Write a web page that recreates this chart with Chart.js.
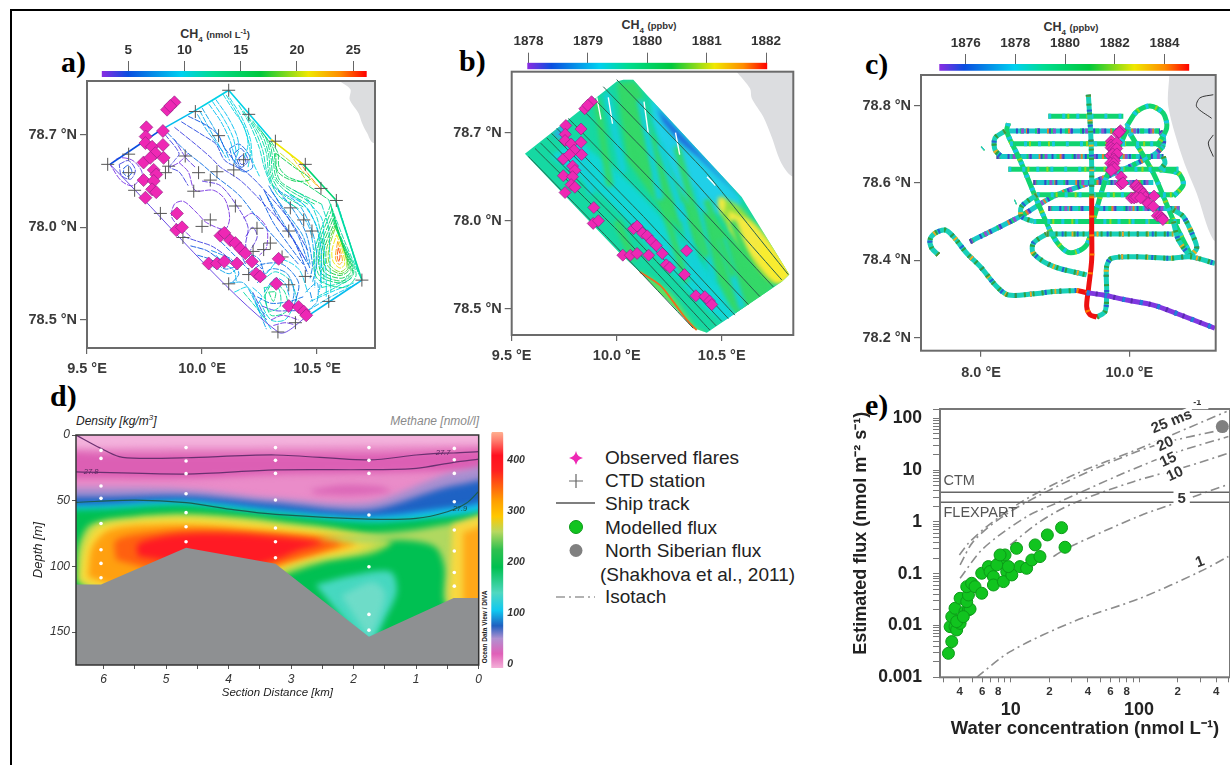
<!doctype html>
<html><head><meta charset="utf-8">
<script src="https://cdn.jsdelivr.net/npm/chart.js@4"></script>
<style>
html,body{margin:0;background:#fff;width:1230px;height:765px;overflow:hidden;font-family:"Liberation Sans",Arial,sans-serif}
body{filter:blur(.4px)}
canvas{position:absolute}
.t{position:absolute;white-space:nowrap;color:#222;line-height:1}
.pl{font:bold 30px "Liberation Serif",serif;color:#000}
.cb{font-size:12.5px;font-weight:bold;color:#333;transform:translateX(-50%)}
.cb small{font-size:9.5px}
.cb sub{font-size:8px;line-height:0}.cb sup{font-size:7px;line-height:0}
.lg{font-size:19px}
#bt,#bl{position:absolute;background:#000}
</style></head><body>
<div id="bt" style="left:9.5px;top:8.5px;width:1221px;height:2.5px"></div>
<div id="bl" style="left:9.5px;top:8.5px;width:2.5px;height:757px"></div>
<div class="t pl" style="left:61px;top:45px">a)</div>
<div class="t pl" style="left:459px;top:44px">b)</div>
<div class="t pl" style="left:865px;top:47px">c)</div>
<div class="t pl" style="left:50px;top:379px">d)</div>
<div class="t pl" style="left:865px;top:388px">e)</div>
<div class="t cb" style="left:215px;top:28px">CH<sub>4</sub> <small>(nmol L<sup>-1</sup>)</small></div>
<div class="t cb" style="left:649px;top:19px">CH<sub>4</sub> <small>(ppbv)</small></div>
<div class="t cb" style="left:1071px;top:21px">CH<sub>4</sub> <small>(ppbv)</small></div>
<div class="t" style="left:76px;top:414px;font:italic 12px 'Liberation Sans';color:#222">Density [kg/m<sup style="font-size:8px;line-height:0">3</sup>]</div>
<div class="t" style="left:378px;top:414px;width:101px;text-align:right;font:italic 12px 'Liberation Sans';color:#8a8a8a">Methane [nmol/l]</div>
<div class="t" style="left:484px;top:627px;font:bold 6.5px 'Liberation Sans';transform:translate(-50%,-50%) rotate(-90deg)">Ocean Data View / DIVA</div>
<svg style="position:absolute;left:540px;top:440px" width="70" height="170">
<path transform="translate(36,18)" d="M0,-7 Q1.2,-1.2 7,0 Q1.2,1.2 0,7 Q-1.2,1.2 -7,0 Q-1.2,-1.2 0,-7Z" fill="#ee28b4"/>
<path d="M29,41H43M36,34V48" stroke="#666" stroke-width="1.2"/>
<path d="M16,63H55" stroke="#555" stroke-width="1.5"/>
<circle cx="36" cy="87" r="6.5" fill="#11c41f" stroke="#0c9a18"/>
<circle cx="36" cy="110.500" r="6.500" fill="#808080"/>
<path d="M16,157H55" stroke="#999" stroke-width="1.3" stroke-dasharray="9 4 2 4"/>
</svg>
<div class="t lg" style="left:605px;top:448px">Observed flares</div>
<div class="t lg" style="left:605px;top:471px">CTD station</div>
<div class="t lg" style="left:605px;top:494px">Ship track</div>
<div class="t lg" style="left:605px;top:518px">Modelled flux</div>
<div class="t lg" style="left:605px;top:541px">North Siberian flux</div>
<div class="t lg" style="left:600px;top:565px">(Shakhova et al., 2011)</div>
<div class="t lg" style="left:605px;top:587px">Isotach</div>
<script>
// ---------- shared data ----------
const flares=[9.88,78.735,9.848,78.727,9.862,78.731,9.758,78.708,9.755,78.698,9.83,78.704,9.754,78.691,9.783,78.687,9.797,78.68,9.83,78.689,9.746,78.67,9.775,78.675,9.833,78.675,9.79,78.662,9.801,78.657,9.746,78.651,9.79,78.65,9.783,78.641,9.801,78.638,9.754,78.632,9.891,78.615,9.888,78.597,9.913,78.6,10.08,78.591,10.097,78.594,10.123,78.586,10.145,78.583,10.167,78.577,10.188,78.572,10.217,78.563,10.236,78.55,10.253,78.547,10.029,78.561,10.065,78.561,10.097,78.563,10.152,78.561,10.333,78.566,10.323,78.539,10.377,78.515,10.42,78.514,10.442,78.509,10.453,78.505];
// ---------- panel a ----------
const ctd=[9.59,78.668,9.681,78.659,9.707,78.64,9.681,78.679,9.971,78.725,10.116,78.748,10.203,78.722,10.072,78.699,10.319,78.693,10.449,78.668,10.517,78.642,10.584,78.629,9.927,78.677,9.855,78.666,9.841,78.659,9.985,78.659,10.065,78.66,10.138,78.662,10.181,78.673,10.036,78.651,9.964,78.639,10.145,78.623,10.384,78.621,10.442,78.608,10.478,78.596,10.377,78.596,10.239,78.599,10.297,78.583,10.036,78.608,10.0,78.601,9.917,78.589,9.819,78.615,10.268,78.576,10.222,78.574,10.116,78.539,10.203,78.549,10.377,78.538,10.449,78.547,10.695,78.543,10.551,78.52,10.406,78.497,10.33,78.487,10.348,78.568];
const landA=[10.598,78.758,10.645,78.749,10.642,78.738,10.681,78.723,10.695,78.713,10.717,78.702,10.746,78.691,11,78.691,11,78.8,10.598,78.8];
const contourValues=[5,9,10,10,21,14,12,9,3.5,3,4,5,6,4,4.5,5,8,8,9,9,10,10,11,12,13,14,15,16,20,22,24,5,6,7,8,9,10,11,13,15,17,19,21,23,25,14,16,18,12,3,3,3.5,3,3.5,4,5,6,8,5,6,6,5,4.5,6,7,8,14,12,3,3.2,4,6,9,4.5,8,7,4,3.5,11,10,8.5,7.5,6.5,5.5,8.5,9.5,10.5,11.5,12.5,13.5,7,9,6,5,8,10,12,9.5,11,13,10.5,10,11,12,9,12,11];
const contourLines=[
[9.6,78.668,9.82,78.705],[9.82,78.705,9.97,78.726],[9.97,78.726,10.116,78.748],[10.116,78.748,10.3,78.695],[10.3,78.695,10.44,78.668],[10.44,78.668,10.58,78.63],[10.58,78.63,10.695,78.543],[10.695,78.543,10.464,78.505],[10.464,78.505,10.33,78.487,9.6,78.668],
[9.6,78.668,9.64,78.675,9.7,78.672,9.74,78.658,9.7,78.645,9.65,78.65,9.6,78.668],
[9.64,78.668,9.68,78.672,9.71,78.662,9.69,78.652,9.65,78.656,9.64,78.668],
[9.66,78.664,9.68,78.667,9.695,78.66,9.68,78.655,9.66,78.658,9.66,78.664],
[9.85,78.702,9.93,78.682,10.0,78.668,10.06,78.655,10.16,78.635,10.24,78.61,10.33,78.585,10.42,78.56],
[9.88,78.708,9.97,78.69,10.04,78.675,10.08,78.665,10.17,78.65,10.27,78.625,10.36,78.6,10.45,78.565],
[9.91,78.714,10.0,78.7,10.06,78.69,10.1,78.672,10.19,78.66,10.29,78.635,10.39,78.605,10.46,78.575],
[9.94,78.72,10.02,78.71,10.07,78.7,10.1,78.685,10.18,78.66],
[9.98,78.722,10.02,78.705,10.05,78.695,10.09,78.682],
[10.0,78.729,10.05,78.708,10.09,78.69,10.12,78.672],
[10.03,78.733,10.08,78.715,10.12,78.695,10.14,78.678],
[10.06,78.738,10.11,78.72,10.15,78.7,10.16,78.685,10.14,78.67],
[10.09,78.744,10.14,78.725,10.18,78.71,10.2,78.69,10.18,78.672],
[10.12,78.74,10.17,78.72,10.21,78.695,10.22,78.672,10.25,78.655],
[10.16,78.732,10.21,78.71,10.25,78.685,10.27,78.665,10.3,78.645],
[10.2,78.72,10.25,78.7,10.28,78.68,10.29,78.66,10.33,78.635,10.42,78.62],
[10.24,78.71,10.28,78.695,10.3,78.675,10.31,78.655,10.36,78.64,10.46,78.625],
[10.27,78.7,10.31,78.685,10.32,78.665,10.34,78.65,10.4,78.64,10.52,78.625],
[10.3,78.693,10.33,78.68,10.335,78.665,10.37,78.655,10.44,78.648,10.55,78.63],
[10.32,78.68,10.4,78.665,10.47,78.652,10.4,78.65,10.33,78.66,10.32,78.68],
[10.34,78.68,10.41,78.665,10.47,78.645],
[10.38,78.68,10.44,78.66,10.5,78.645],
[10.42,78.672,10.46,78.658,10.52,78.64],
[10.27,78.64,10.33,78.61,10.4,78.585,10.46,78.55],
[10.29,78.645,10.35,78.62,10.42,78.59,10.47,78.555],
[10.31,78.645,10.38,78.625,10.45,78.595,10.48,78.56,10.47,78.545],
[10.33,78.64,10.42,78.625,10.48,78.595,10.5,78.565,10.48,78.54],
[10.38,78.635,10.46,78.62,10.51,78.59,10.52,78.56,10.51,78.53],
[10.45,78.63,10.52,78.61,10.53,78.585,10.54,78.545,10.54,78.525],
[10.52,78.625,10.55,78.6,10.555,78.57,10.56,78.53],
[10.56,78.625,10.58,78.6,10.67,78.55,10.62,78.535,10.5,78.545,10.49,78.575,10.56,78.625],
[10.57,78.615,10.6,78.59,10.655,78.552,10.61,78.542,10.52,78.55,10.51,78.575,10.57,78.615],
[10.575,78.605,10.605,78.585,10.64,78.555,10.6,78.548,10.54,78.555,10.53,78.575,10.575,78.605],
[10.58,78.6,10.61,78.58,10.63,78.558,10.6,78.552,10.555,78.56,10.55,78.575,10.58,78.6],
[10.585,78.592,10.61,78.575,10.62,78.56,10.6,78.556,10.57,78.563,10.565,78.575,10.585,78.592],
[10.59,78.585,10.605,78.572,10.61,78.563,10.595,78.56,10.58,78.567,10.59,78.585],
[10.592,78.578,10.6,78.57,10.595,78.563,10.588,78.568,10.592,78.578],
[10.565,78.62,10.595,78.595,10.66,78.552,10.615,78.54,10.51,78.548,10.5,78.575,10.565,78.62],
[10.572,78.61,10.602,78.588,10.648,78.553,10.605,78.545,10.53,78.552,10.52,78.575,10.572,78.61],
[10.578,78.602,10.608,78.582,10.635,78.556,10.6,78.55,10.548,78.558,10.54,78.575,10.578,78.602],
[10.55,78.63,10.62,78.585,10.685,78.548],
[9.9,78.67,9.94,78.66,9.97,78.64,10.05,78.64,10.1,78.63,10.12,78.61,10.1,78.598,10.02,78.605,9.98,78.615,9.92,78.628,9.88,78.625,9.87,78.61,9.95,78.59],
[9.94,78.68,9.9,78.67,9.86,78.665],
[10.0,78.65,10.08,78.645,10.16,78.62,10.2,78.6,10.19,78.58,10.22,78.56],
[10.18,78.61,10.22,78.615,10.28,78.6,10.28,78.578,10.25,78.57],
[10.19,78.59,10.22,78.6,10.24,78.59,10.21,78.575],
[9.92,78.59,9.98,78.585,10.04,78.58,10.1,78.57,10.14,78.56],
[9.95,78.58,10.02,78.575,10.08,78.565,10.14,78.56],
[9.98,78.57,10.04,78.565,10.1,78.555,10.15,78.558],
[10.02,78.56,10.07,78.555,10.12,78.55,10.17,78.56],
[10.1,78.6,10.14,78.585,10.17,78.57,10.19,78.56],
[10.06,78.59,10.12,78.575,10.16,78.565,10.2,78.555],
[10.12,78.685,10.16,78.69,10.2,78.68,10.22,78.665,10.18,78.66,10.14,78.67,10.12,78.685],
[10.14,78.68,10.17,78.685,10.2,78.672,10.17,78.665,10.14,78.68],
[10.16,78.675,10.18,78.678,10.19,78.67,10.17,78.668,10.16,78.675],
[10.2,78.55,10.26,78.56,10.35,78.56,10.42,78.54,10.4,78.515],
[10.24,78.54,10.3,78.555,10.37,78.55,10.4,78.53,10.38,78.51],
[10.27,78.53,10.32,78.545,10.36,78.54,10.38,78.525],
[10.29,78.53,10.32,78.53,10.31,78.52,10.29,78.53],
[10.27,78.535,10.33,78.535,10.34,78.515,10.29,78.51,10.27,78.535],
[10.3,78.5,10.35,78.505,10.42,78.5],
[10.31,78.494,10.36,78.497,10.4,78.495],
[10.26,78.515,10.32,78.51,10.38,78.51,10.44,78.51],
[10.24,78.525,10.3,78.518,10.38,78.52,10.44,78.525],
[10.22,78.535,10.26,78.525,10.24,78.515,10.28,78.505],
[10.22,78.53,10.28,78.5],
[10.45,78.53,10.5,78.54,10.5,78.52,10.46,78.51],
[10.47,78.53,10.48,78.52],
[9.84,78.7,9.9,78.68,9.88,78.672,9.86,78.665,9.9,78.66,9.94,78.645],
[9.88,78.695,9.93,78.675,9.97,78.665],
[10.4,78.64,10.46,78.63,10.5,78.61,10.525,78.58,10.53,78.54],
[10.36,78.64,10.44,78.625,10.5,78.6,10.51,78.57,10.52,78.535],
[10.35,78.632,10.42,78.618,10.47,78.597,10.49,78.56,10.49,78.535],
[10.3,78.64,10.37,78.615,10.44,78.59,10.47,78.56],
[10.28,78.635,10.34,78.61,10.41,78.582,10.46,78.56],
[10.25,78.635,10.31,78.605,10.38,78.58,10.44,78.56],
[9.99,78.726,10.035,78.705,10.07,78.69,10.105,78.675],
[10.045,78.736,10.095,78.717,10.135,78.697,10.15,78.68],
[10.105,78.743,10.155,78.722,10.195,78.7,10.21,78.68,10.2,78.665],
[10.18,78.726,10.23,78.705,10.265,78.682,10.28,78.662,10.315,78.64],
[10.22,78.715,10.265,78.698,10.29,78.678,10.3,78.657,10.345,78.637,10.44,78.622],
[10.255,78.705,10.295,78.69,10.31,78.67,10.325,78.652,10.38,78.64,10.49,78.625],
[10.04,78.575,10.09,78.57,10.13,78.565,10.16,78.55,10.13,78.54],
[10.06,78.57,10.1,78.56,10.14,78.553,10.15,78.54],
[10.18,78.57,10.22,78.57,10.25,78.565,10.27,78.55],
[10.2,78.565,10.24,78.56,10.26,78.555],
[10.12,78.54,10.18,78.54,10.22,78.525,10.28,78.49],
[10.14,78.53,10.2,78.535,10.25,78.51,10.3,78.49],
[10.18,78.53,10.23,78.515,10.28,78.5],
[10.28,78.55,10.34,78.565,10.42,78.555,10.46,78.53],
[10.26,78.542,10.32,78.552,10.39,78.54,10.42,78.51],
[10.27,78.525,10.31,78.54,10.36,78.53,10.37,78.51,10.3,78.505,10.27,78.525],
[10.25,78.52,10.3,78.5,10.36,78.5,10.4,78.515],
[10.47,78.52,10.56,78.53,10.66,78.54],
[10.5,78.525,10.58,78.535,10.65,78.545],
[10.52,78.535,10.6,78.54,10.64,78.548],
[10.46,78.51,10.56,78.525,10.68,78.54],
[10.6,78.615,10.66,78.57,10.69,78.545],
[10.59,78.625,10.64,78.585,10.68,78.55]];
const cbATicks=[5,10,15,20,25];
// ---------- panel b ----------
const swath=[9.563,78.676,10.0,78.758,10.032,78.76,10.079,78.76,10.143,78.743,10.595,78.627,10.822,78.539,10.786,78.531,10.429,78.473,10.373,78.478,10.111,78.542,10.016,78.563];
const landB=[10.571,78.769,10.635,78.75,10.643,78.739,10.698,78.718,10.738,78.695,10.785,78.665,10.841,78.65,11,78.65,11,78.8,10.571,78.8];
const bandColors=['#16d8a2','#12d6d6','#34d868','#20d0e8','#1f68dc','#28b0e0','#90e040','#f5ea40','#f8ec30','#f5ea40','#60e060'];
const bandShapes=[
[9,78.4,11,78.4,11,78.9,9,78.9],
[9.683,78.673,9.952,78.624,10.206,78.556,10.492,78.488,10.587,78.495,10.333,78.571,10.048,78.646,9.809,78.692],
[10.0,78.756,10.095,78.756,10.174,78.699,10.333,78.639,10.524,78.586,10.746,78.529,10.587,78.491,10.428,78.556,10.206,78.616,10.048,78.669],
[10.159,78.741,10.587,78.627,10.555,78.608,10.365,78.616,10.238,78.669,10.174,78.711],
[10.19,78.728,10.587,78.627,10.5,78.647,10.39,78.672,10.3,78.69,10.22,78.712],
[9.698,78.699,9.746,78.709,9.762,78.699,9.714,78.692],
[10.492,78.627,10.587,78.616,10.825,78.54,10.746,78.529,10.587,78.571,10.492,78.608],
[10.53,78.612,10.66,78.595,10.825,78.54,10.76,78.53,10.64,78.56,10.54,78.59],
[10.68,78.58,10.82,78.54,10.76,78.532,10.68,78.555],
[10.484,78.627,10.516,78.624,10.508,78.608,10.484,78.616],
[10.111,78.543,10.254,78.518,10.381,78.478,10.429,78.473,10.333,78.472,10.095,78.537]];
const streakColors=['#34d868','#34d868','#34d868','#34d868','#14d0d8','#14d0d8','#14d0d8','#14d0d8','#34d868','#34d868','#34d868','#14d0d8','#14d0d8','#14d0d8'];
const streaks=[[9.905,78.737,9.968,78.639],[10.048,78.748,10.143,78.65],[10.286,78.684,10.428,78.559],[10.428,78.624,10.555,78.537],[9.952,78.745,10.032,78.654],[10.111,78.737,10.206,78.624],[10.365,78.639,10.46,78.533],[10.206,78.688,10.317,78.601],[10.0,78.6,10.08,78.555],[10.22,78.62,10.33,78.53],[10.55,78.6,10.68,78.52],[10.3,78.62,10.42,78.51],[10.5,78.58,10.6,78.5],[9.82,78.69,9.88,78.63]];
const whiteGaps=[[9.905,78.74,9.925,78.715],[9.96,78.74,9.98,78.71],[10.13,78.735,10.15,78.7],[10.28,78.7,10.3,78.675],[10.43,78.65,10.47,78.64],[9.93,78.75,9.99,78.76]];
const orangeEdge=[10.111,78.542,10.206,78.527,10.27,78.508,10.333,78.488,10.381,78.476];
const shipLines=[
[9.579,78.673,9.952,78.582,10.365,78.478],[9.611,78.682,10.016,78.586,10.444,78.476],[9.638,78.688,10.048,78.59,10.473,78.481],[9.667,78.694,10.079,78.593,10.5,78.486],[9.69,78.699,10.103,78.599,10.532,78.489],[9.714,78.705,10.127,78.605,10.563,78.493],[9.77,78.716,10.19,78.614,10.627,78.505],[9.825,78.729,10.254,78.624,10.682,78.514],[9.881,78.741,10.301,78.639,10.746,78.525],[9.936,78.752,10.365,78.646,10.786,78.533],[10.0,78.76,10.428,78.654,10.817,78.539]];
const cbBTicks=[1878,1879,1880,1881,1882];
// ---------- panel c ----------
const landC=[10.539,78.879,10.526,78.797,10.728,78.659,10.908,78.573,11.133,78.453,11.3,78.453,11.3,78.9,10.539,78.9];
const inlets=[[11.133,78.828,10.953,78.82,10.908,78.797,11.11,78.767],[11.133,78.724,11.065,78.703,11.133,78.668]];
const tracksBlue=[[8.324,78.734,10.413,78.734],[8.211,78.668,10.458,78.668],[8.706,78.601,10.324,78.601],[8.908,78.534,10.683,78.534],[7.852,78.448,8.526,78.513,8.975,78.565,9.694,78.616,10.324,78.672,10.458,78.694],[10.413,78.734,10.46,78.717,10.45,78.695,10.391,78.701]];
const tracksGreen=[[8.908,78.772,9.919,78.772],[8.391,78.701,10.391,78.701],[8.369,78.635,10.661,78.635],[8.751,78.569,10.593,78.569],[8.706,78.5,10.683,78.5],[8.369,78.754,8.346,78.733,8.526,78.659,8.751,78.556,8.975,78.461,9.155,78.422,9.29,78.422,9.425,78.44,9.492,78.478],[9.964,78.746,10.099,78.784,10.279,78.799,10.458,78.78,10.503,78.741,10.369,78.694],[9.987,78.746,9.694,78.616,9.515,78.504],[10.009,78.728,10.324,78.625,10.593,78.504,10.84,78.409],[10.413,78.634,10.661,78.625,10.728,78.595,10.593,78.565],[8.018,78.688,8.03,78.69],[8.458,78.55,8.47,78.551]];
const tracksMix=[[7.425,78.414,7.335,78.431,7.312,78.453,7.38,78.47,7.515,78.478,7.627,78.461,7.807,78.418,7.987,78.384,8.211,78.332,8.369,78.31,8.706,78.313,8.975,78.319,9.29,78.322],[9.56,78.253,9.672,78.267,9.694,78.315,9.694,78.384,9.762,78.405,10.099,78.409,10.548,78.405,10.818,78.409,11.155,78.392],[8.885,78.468,10.593,78.468],[8.324,78.734,8.189,78.716,8.189,78.685,8.279,78.668],[8.751,78.569,8.548,78.539,8.548,78.513,8.706,78.5],[8.885,78.468,8.706,78.444,8.706,78.418,8.975,78.384,9.425,78.362],[10.593,78.53,10.728,78.513,10.863,78.461,10.908,78.431,10.818,78.409],[10.593,78.5,10.661,78.453,10.818,78.409],[9.447,78.828,9.479,78.728,9.492,78.642,9.492,78.565],[10.458,78.668,10.481,78.651,10.413,78.634]];
const tracksRed=[[9.492,78.565,9.492,78.487,9.492,78.401,9.447,78.323,9.425,78.28,9.47,78.259,9.56,78.253],[9.29,78.322,9.425,78.316]];
const tracksPurple=[[9.425,78.316,9.649,78.31,9.964,78.297,10.324,78.284,10.683,78.259,11.155,78.224]];
const cbCTicks=[1876,1878,1880,1882,1884];
// ---------- panel d ----------
const dX=[0,1,2,3,4,5,6,0.5,1.5,2.5,3.5,4.5,5.5];
const dY=[0,50,100,150];
const dTick=[0,100,200,300,400];
const seabed=[8,113.7,6.04,113.7,4.68,85.8,3.25,98,1.755,153.5,0.4,124,-2,124,-2,200,8,200];
const dColors=['#ea8cc9','#f3b2dc','#dc5fb4','#dc68b8','#a78fd0','#1e62c4','#14c8f0','#00c052','#b8dc50','#f8dc3c','#ffa010','#ff6010','#ff1a24','#b0d860','#f8d840','#ffa818','#46d8c0','#6edcc8'];
const dShapes=[
[-2,-10,8,-10,8,200,-2,200],
[-2,-10,8,-10,8,7,4.7,9,1.75,8,-2,6],
[8,8,6.05,14,4.7,14,3.25,14,1.75,14,0.35,12,-2,8,-2,24,0.35,27,1.75,29,3.25,30,4.7,33,6.05,33,8,33],
[2.7,42,2.2,38,1.6,39,1.4,43,2.0,46,2.6,45],
[8,41,6.05,40,4.7,41,3.25,48,1.75,51,0.35,28,-2,18,-2,200,8,200],
[8,47,6.05,47,4.7,46,3.25,52,1.75,57,0.35,38,-2,28,-2,200,8,200],
[8,54,6.05,53,4.7,50,3.25,57,1.75,62,0.35,55,-2,42,-2,200,8,200],
[8,58,6.05,56,4.7,53,3.25,60,1.75,66,0.35,61,-2,50,-2,200,8,200],
[6.42,112,6.4,85,6.2,68,5.5,62,4.7,60,3.7,63,3,67,2.3,71,1.4,81,1.7,90,2.5,97,3.3,110,4,125,6,125],
[6.38,110,6.3,85,6.1,70,5.5,65,4.7,63,3.7,66,3,70,2.3,74,1.65,81,1.95,88,2.7,95,3.3,105,4,120,6,120],
[6.25,108,6.18,85,5.9,72,5,68,4.2,69,3.2,73,2.4,77,1.95,81,2.15,86,2.8,93,3.2,100,4,115,5.8,115],
[5.8,95,5.8,80,5,73,4.3,72,3.4,75,2.7,78,2.2,82,2.6,90,3.2,98,4,110,5,105],
[5.45,92,5.45,83,5,77,4.4,75,3.6,76,2.9,79,2.5,82,2.9,88,3.2,94,4,104,4.7,98],
[2.6,78,1.7,75,1,72,0.5,68,-0.5,62,-0.5,130,0.5,130,0.55,100,0.7,85,1.2,80,1.8,83],
[0.42,68,-0.5,60,-0.5,130,0.42,130,0.45,100],
[0.25,74,-0.5,66,-0.5,130,0.25,130],
[2.61,114,2.05,107,1.41,104,1.31,119,1.52,142,1.75,165],
[2.2,122,1.7,112,1.5,120,1.6,140,1.75,155]];
const density277=[6.44,0,6.05,10,5.75,16.5,5.4,17.8,4.68,17.3,3.25,15.2,1.755,19,1.0,15.2,0.67,14,0.4,13.7,0,12.7];
const density278=[6.44,28,4.68,29.7,3.25,26.6,1.755,26.4,1.0,25.4,0.4,20.8,0,18.3];
const density279=[6.44,51.3,5.5,49.5,4.68,51.5,3.9,57,3.25,60.4,1.755,64,1.0,63.5,0.5,58.4,0.2,52,0,43];
const samples=[6.04,11.7,6.04,17.8,6.04,38.8,6.04,48.2,6.04,67.3,6.04,87.3,6.04,97.7,6.04,108.6,4.68,9.6,4.68,19.8,4.68,29.4,4.68,44.7,4.68,59.1,4.68,69.8,4.68,81.2,3.25,9.6,3.25,19.3,3.25,29.2,3.25,49.5,3.25,70.8,3.25,81.2,3.25,93.4,1.755,9.6,1.755,19.3,1.755,29.2,1.755,60.9,1.755,100.3,1.755,136.5,1.755,148.5,0.39,10.2,0.39,18.8,0.39,29.2,0.39,50.8,0.39,72.3,0.39,88.3,0.39,104.6,0.39,115];
// ---------- panel e ----------
const modelledFlux=[3.27,.0029,3.47,.00489,3.37,.0095,3.68,.0095,3.79,.0082,4.03,.011,3.47,.0148,3.68,.0215,4.03,.0335,4.4,.0185,4.68,.02,4.82,.0208,4.54,.0289,4.68,.0388,4.54,.0562,4.96,.0653,5.27,.0562,5.94,.0419,5.94,.102,6.7,.137,6.9,.11,7.33,.0877,7.33,.0605,8.26,.171,9.03,.23,9.31,.11,8.77,.0703,10.2,.0946,11.1,.309,11.8,.137,13.3,.127,14.6,.184,15.5,.359,16.9,.214,19.3,.56,24.9,.774,26.5,.324,7.78,.148,9.59,.137,3.79,.0119,4.27,.0148,8.26,.23];
const siberianFlux=[446,69];
const isotach1=[5.43,.001,9.9,.00313,30.8,.0119,102,.0335,299,.11,497,.214];
const isotach5=[21.5,.214,27.3,.309,102,1.32,208,2.46,497,5.32];
const isotach10=[9.9,.359,16.9,1.01,30.8,2.29,90.4,5.98,235,11.7,497,21.1];
const isotach15=[4.03,.0815,6.12,.309,13.3,1.26,24.2,2.46,75.5,8.67,185,21.1,497,44.3];
const isotach20=[4.03,.148,5.1,.416,8.26,1.17,16.9,3.31,49.7,11.7,137,30.5,497,64];
const isotach25=[3.98,.23,4.68,.386,6.5,.81,12.2,2.46,30.8,8.05,102,26.4,482,135];
const ctmFlux=3.73, flexpartFlux=2.39;
const xTicksE=[3,4,5,6,7,8,9,10,20,30,40,50,60,70,80,90,100,200,300,400,500];
const xLabelsE=[4,6,8,20,40,60,80,200,400];
const xMajorE=[10,100];
const yTicksE=[.001,.002,.003,.004,.005,.006,.007,.008,.009,.01,.02,.03,.04,.05,.06,.07,.08,.09,.1,.2,.3,.4,.5,.6,.7,.8,.9,1,2,3,4,5,6,7,8,9,10,20,30,40,50,60,70,80,90,100,150];
const yMajorE=[.001,.01,.1,1,10,100];
// ---------- helpers ----------
const P=f=>{const o=[];for(let i=0;i<f.length;i+=2)o.push({x:f[i],y:f[i+1]});return o};
const FF='"Liberation Sans"';
const rampStops=[[0,'#8a2be2'],[.1,'#0a4ee0'],[.3,'#00d0f0'],[.42,'#00dc90'],[.6,'#00c83c'],[.78,'#f0e800'],[.9,'#ff8c00'],[1,'#ff0000']];
const hex=c=>[1,3,5].map(i=>parseInt(c.substr(i,2),16));
function rampColor(t){t=Math.max(0,Math.min(1,t));for(let i=1;i<rampStops.length;i++){if(t<=rampStops[i][0]){const a=rampStops[i-1],b=rampStops[i],u=(t-a[0])/(b[0]-a[0]),A=hex(a[1]),B=hex(b[1]);return `rgb(${A.map((v,k)=>Math.round(v+(B[k]-v)*u)).join(',')})`}}return '#f00'}
const frame=(col,w)=>({id:'frame',afterDraw(c){const a=c.chartArea,x=c.ctx;x.save();x.strokeStyle=col;x.lineWidth=w;x.strokeRect(a.left,a.top,a.width,a.height);x.restore()}});
const soft=(blur,K,clipPts)=>({id:'soft',
 beforeDatasetsDraw(c){const x=c.ctx;x.save();if(clipPts){x.beginPath();clipPts.forEach((p,i)=>{const X=c.scales.x.getPixelForValue(p.x),Y=c.scales.y.getPixelForValue(p.y);i?x.lineTo(X,Y):x.moveTo(X,Y)});x.closePath();x.clip()}x.filter=`blur(${blur}px)`},
 afterDatasetDraw(c,a){if(a.index===K)c.ctx.restore()}});
const annot=items=>({id:'annot',afterDraw(c){const x=c.ctx;items.forEach(it=>{const X=c.scales.x.getPixelForValue(it.x),Y=c.scales.y.getPixelForValue(it.y);x.save();x.translate(X,Y);x.rotate((it.rot||0)*Math.PI/180);x.font=it.font;x.textAlign=it.align||'center';x.textBaseline='middle';if(it.bg){const w=x.measureText(it.t).width+(it.pad||4);x.fillStyle=it.bg;x.fillRect(-w/2,-(it.h||16)/2,w,it.h||16)}x.fillStyle=it.color||'#333';x.fillText(it.t,0,0);x.restore()})}});
function mk(cv,plot,type,data,scales,opts){
 const el=document.createElement('canvas');el.style.left=cv[0]+'px';el.style.top=cv[1]+'px';el.width=cv[2]-cv[0];el.height=cv[3]-cv[1];el.style.width=el.width+'px';el.style.height=el.height+'px';document.body.appendChild(el);
 const sides={left:plot[0]-cv[0],top:plot[1]-cv[1],right:cv[2]-plot[2],bottom:cv[3]-plot[3]};
 const pad={left:sides.left,top:sides.top,right:sides.right,bottom:sides.bottom};
 Object.values(scales).forEach(s=>{if(s.display===false||!s.position)return;pad[s.position]=0;
  const given=s.boxSize!=null?s.boxSize:sides[s.position];const horiz=s.position==='top'||s.position==='bottom';
  s.afterFit=a=>{if(horiz)a.height=given;else a.width=given;a.paddingLeft=a.paddingRight=a.paddingTop=a.paddingBottom=0};
  if(s.tickValues){const tv=s.tickValues;s.afterBuildTicks=a=>{a.ticks=tv.map(v=>({value:v}))}}
 });
 return new Chart(el,{type,data,plugins:opts.plugins||[],options:Object.assign({responsive:false,animation:false,events:[],devicePixelRatio:1,layout:{padding:pad},scales,plugins:{legend:{display:false},tooltip:{enabled:false}}},opts.options||{})});
}
const area=(data,color,label)=>({label,type:'scatter',data:P(data),showLine:true,fill:'shape',backgroundColor:color,borderWidth:0,pointRadius:0,tension:.3});
const polyline=(data,color,w,label,extra)=>Object.assign({label,type:'scatter',data:P(data),showLine:true,fill:false,borderColor:color,borderWidth:w,pointRadius:0,tension:.3},extra||{});
const flareSet=r=>({label:'Observed flares',data:P(flares),pointStyle:'rectRot',radius:r,backgroundColor:'#ee28b4',borderColor:'#8a2080',borderWidth:.6});
const lonAxis=(min,max,vals,pad)=>({type:'linear',position:'bottom',min,max,tickValues:vals,border:{display:false},grid:{drawOnChartArea:false,tickLength:6,color:'#666',lineWidth:1.2},ticks:{autoSkip:false,maxRotation:0,padding:pad,color:'#3a3a3a',font:{family:FF,size:14.5,weight:'bold'},callback:v=>v.toFixed(1)+' °E'}});
const latAxis=(min,max,vals,labels)=>({type:'linear',position:'left',min,max,tickValues:vals,border:{display:false},grid:{drawOnChartArea:false,tickLength:7,color:'#666',lineWidth:1.2},ticks:{autoSkip:false,padding:3,color:'#3a3a3a',font:{family:FF,size:14.5,weight:'bold'},callback:v=>labels[vals.indexOf(v)]}});
function colorbar(cv,plot,min,max,ticks,tl){
 mk(cv,plot,'bar',{labels:['CH4'],datasets:[{label:'CH4 scale',data:[[min,max]],barPercentage:1,categoryPercentage:1,backgroundColor:c=>{const a=c.chart.chartArea;if(!a)return '#888';const g=c.chart.ctx.createLinearGradient(a.left,0,a.right,0);rampStops.forEach(s=>g.addColorStop(s[0],s[1]));return g}}]},
 {x:{type:'linear',position:'top',min,max,tickValues:ticks,border:{display:false},grid:{drawOnChartArea:false,tickLength:tl,color:'#666',lineWidth:1},ticks:{autoSkip:false,maxRotation:0,padding:3,color:'#333',font:{family:FF,size:13.5,weight:'bold'},callback:v=>String(v)}},y:{display:false}},
 {options:{indexAxis:'y'}});
}
// ---------- panel a ----------
colorbar([70,20,400,80],[101.7,71,366.7,77],2.64,26.2,cbATicks,10);
const contourSets=contourLines.map((l,i)=>polyline(l,rampColor((contourValues[i]-2.64)/23.56),i<8?1.6:.9,'contour '+contourValues[i],{borderDash:i<9?[]:[6,1.2]}));
mk([20,70,400,385],[87,81,375,348],'scatter',{datasets:[flareSet(6.5),{label:'CTD station',data:P(ctd),pointStyle:'cross',radius:6.5,borderColor:'#555',borderWidth:1},...contourSets,area(landA,'#dcdddf','land')]},
 {x:lonAxis(9.5,10.752,[9.5,10,10.5],6),y:latAxis(78.4697,78.758,[78.5,78.6,78.7],['78.5 °N','78.0 °N','78.7 °N'])},{plugins:[frame('#6b6b6b',2)]});
// ---------- panel b ----------
colorbar([495,10,800,72],[527.3,62.7,767.3,69.3],1877.98,1882.02,cbBTicks,10);
const bSharp=[flareSet(6),...shipLines.map(l=>polyline(l,'#25604c',1,'Ship track',{tension:.1})),polyline(orangeEdge,'#ef6a1e',1.8,'edge'),...whiteGaps.map(l=>polyline(l,'#ffffff',1.4,'gap')),area(landB,'#dcdde0','land')];
const bBlur=[...streaks.map((l,i)=>polyline(l,streakColors[i],7,'streak')),...bandShapes.map((s,i)=>area(s,bandColors[i],'band')).reverse()];
mk([440,60,810,375],[511.7,71.7,793.3,335],'scatter',{datasets:[...bSharp,...bBlur]},
 {x:lonAxis(9.5,10.841,[9.5,10,10.5],6),y:latAxis(78.4705,78.769,[78.5,78.6,78.7],['78.5 °N','78.0 °N','78.7 °N'])},{plugins:[soft(2,bSharp.length,P(swath)),frame('#6b6b6b',2)]});
// ---------- panel c ----------
colorbar([905,12,1225,74],[939.3,64,1189.3,70.7],1874.94,1885,cbCTicks,10);
const trackStyle=[[tracksBlue,'#18c8c8',[['#3848c8',[2,9]],['#e08030',[2,19]],['#9050d0',[3,13]],['#10d470',[4,11]]]],[tracksGreen,'#10d470',[['#18c8e0',[3,11]],['#90d820',[2,17]]]],[tracksMix,'#18d0b8',[['#30a040',[2,7]],['#e8b020',[2,23]],['#2860d0',[2,13]]]],[tracksRed,'#ee1010',[['#ff8000',[2,17]]]],[tracksPurple,'#8038e0',[['#2080d8',[3,15]],['#5a2ab0',[2,7]]]]];
const cSets=[];trackStyle.slice().reverse().forEach(([ts,base,ov])=>ts.forEach(t=>{ov.forEach(o=>cSets.push(polyline(t,o[0],5,'Ship track',{borderDash:o[1]})));cSets.push(polyline(t,base,5,'Ship track'))}));
mk([850,62,1230,385],[921,75,1215.7,350.7],'scatter',{datasets:[flareSet(6),...cSets,...inlets.map(l=>polyline(l,'#222',.9,'coast')),area(landC,'#dcdde0','land')]},
 {x:lonAxis(7.19,11.165,[8,10],8),y:latAxis(78.166,78.879,[78.2,78.4,78.6,78.8],['78.2 °N','78.4 °N','78.6 °N','78.8 °N'])},{plugins:[frame('#6b6b6b',2)]});
// ---------- panel d ----------
const dSharp=[{label:'Samples',data:P(samples),radius:1.8,backgroundColor:'#fff',borderWidth:0},polyline(density277,'#6a3070',1.2,'27.7'),polyline(density278,'#6a3070',1.2,'27.8'),polyline(density279,'#1a6050',1.2,'27.9'),Object.assign(area(seabed,'#8e9092','Seabed'),{tension:0})];
const dBlur=dShapes.map((s,i)=>area(s,dColors[i],'band')).reverse();
const dTicks={autoSkip:false,maxRotation:0,color:'#333',font:{family:FF,size:12,style:'italic'}};
mk([25,425,490,708],[76,435,478.7,665],'scatter',{datasets:[...dSharp,...dBlur]},
 {x:{type:'linear',position:'bottom',reverse:true,min:0,max:6.44,tickValues:dX,border:{display:false},grid:{drawOnChartArea:false,tickLength:4,color:'#555'},ticks:Object.assign({},dTicks,{padding:3,callback:v=>Number.isInteger(v)?String(v):''}),title:{display:true,text:'Section Distance [km]',color:'#222',padding:{top:0,bottom:8},font:{family:FF,size:11.5,style:'italic'}}},
  y:{type:'linear',position:'left',reverse:true,min:0,max:175,tickValues:dY,border:{display:false},grid:{drawOnChartArea:false,tickLength:4,color:'#555'},ticks:Object.assign({},dTicks,{padding:2,callback:v=>String(v)}),title:{display:true,text:'Depth [m]',color:'#222',padding:{top:6,bottom:0},font:{family:FF,size:13,style:'italic'}}}},
 {plugins:[soft(3,dSharp.length),frame('#333',1.5),annot([{t:'27.7',x:.57,y:14,font:'italic 7.5px '+FF,color:'#5a2a60'},{t:'27.8',x:6.2,y:28,font:'italic 7.5px '+FF,color:'#5a2a60'},{t:'27.9',x:.3,y:56,font:'italic 7.5px '+FF,color:'#1a5040'}])]});
const dStops=[[-8,'#f4b0d8'],[20,'#e060b8'],[50,'#b090d0'],[75,'#2060c0'],[105,'#10c8f0'],[140,'#50d8c0'],[190,'#00c050'],[225,'#30c050'],[260,'#b8d860'],[290,'#ffc800'],[320,'#ffa000'],[380,'#ff2020'],[410,'#ff1020'],[440,'#ff8070'],[456,'#ffb090']];
mk([485,425,530,675],[491.3,432,503.3,668],'bar',{labels:['CH4'],datasets:[{label:'Methane',data:[[-8,456]],barPercentage:1,categoryPercentage:1,borderRadius:3,backgroundColor:c=>{const a=c.chart.chartArea;if(!a)return '#888';const g=c.chart.ctx.createLinearGradient(0,a.bottom,0,a.top);dStops.forEach(s=>g.addColorStop((s[0]+8)/464,s[1]));return g}}]},
 {x:{display:false},y:{type:'linear',position:'right',min:-8,max:456,tickValues:dTick,border:{display:false},grid:{drawOnChartArea:false,drawTicks:false,display:false},ticks:{autoSkip:false,padding:4,color:'#333',font:{family:FF,size:10.5,style:'italic',weight:'bold'},callback:v=>String(v)}}},{});
// ---------- panel e ----------
const iso=(d,n)=>polyline(d,'#8c8c8c',1.6,'Isotach '+n,{borderDash:[9,4,2,4]});
const hl=(v,n)=>polyline([2.81,v,512,v],'#666',1.5,n,{tension:0});
const eFont=s=>`bold ${s}px ${FF}`;
mk([850,400,1242,740],[940,409,1230,677.3],'scatter',{datasets:[
 {label:'Modelled flux',data:P(modelledFlux),radius:6,backgroundColor:'#11c41f',borderColor:'#0c9a18',borderWidth:1},
 {label:'North Siberian flux',data:P(siberianFlux),radius:6.5,backgroundColor:'#808080',borderWidth:0},
 hl(ctmFlux,'CTM'),hl(flexpartFlux,'FLEXPART'),iso(isotach1,1),iso(isotach5,5),iso(isotach10,10),iso(isotach15,15),iso(isotach20,20),iso(isotach25,25)]},
 {x:{type:'logarithmic',position:'bottom',weight:0,boxSize:22,min:2.81,max:512,tickValues:xTicksE,border:{display:false},grid:{drawOnChartArea:false,tickLength:5,color:'#777'},ticks:{autoSkip:false,maxRotation:0,padding:3,color:'#333',font:{family:FF,size:11.5,weight:'bold'},callback:v=>xLabelsE.includes(v)?String(v/(v>=200?100:v>=20?10:1)):''}},
  x2:{type:'logarithmic',position:'bottom',weight:1,boxSize:40.7,min:2.81,max:512,tickValues:xMajorE,border:{display:false},grid:{display:false,drawTicks:false},ticks:{autoSkip:false,maxRotation:0,padding:0,color:'#222',font:{family:FF,size:18,weight:'bold'},callback:v=>String(v)},title:{display:true,text:'Water concentration (nmol L⁻¹)',color:'#222',padding:0,font:{family:FF,size:18.5,weight:'bold'}}},
  y:{type:'logarithmic',position:'left',min:.001,max:151,tickValues:yTicksE,border:{display:false},grid:{drawOnChartArea:false,tickLength:7,color:'#777'},ticks:{autoSkip:false,padding:11,color:'#222',font:{family:FF,size:17.5,weight:'bold'},callback:v=>yMajorE.includes(v)?String(v):''},title:{display:true,text:'    Estimated flux (nmol m⁻² s⁻¹)',color:'#222',padding:{top:0,bottom:0},font:{family:FF,size:18,weight:'bold'}}}},
 {plugins:[frame('#777',2),annot([
  {t:'CTM',x:2.99,y:6.26,align:'left',font:'14.5px '+FF,color:'#555'},
  {t:'FLEXPART',x:2.99,y:1.47,align:'left',font:'14.5px '+FF,color:'#555'},
  {t:'1',x:299,y:.166,rot:-20,font:eFont(15),bg:'#fff',h:14,pad:6},
  {t:'5',x:215,y:2.77,font:eFont(15),bg:'#fff',h:18,pad:8},
  {t:'10',x:191,y:8.3,rot:-25,font:eFont(15),bg:'#fff',h:14},
  {t:'15',x:169,y:15.7,rot:-25,font:eFont(15),bg:'#fff',h:14},
  {t:'20',x:160,y:31.5,rot:-25,font:eFont(15),bg:'#fff',h:14},
  {t:'25 ms',x:180,y:86,rot:-22,font:eFont(15),bg:'#fff',h:14},
  {t:'-1',x:285,y:205,font:eFont(9),bg:'#fff',h:14,pad:14}])]});
</script>
</body></html>
